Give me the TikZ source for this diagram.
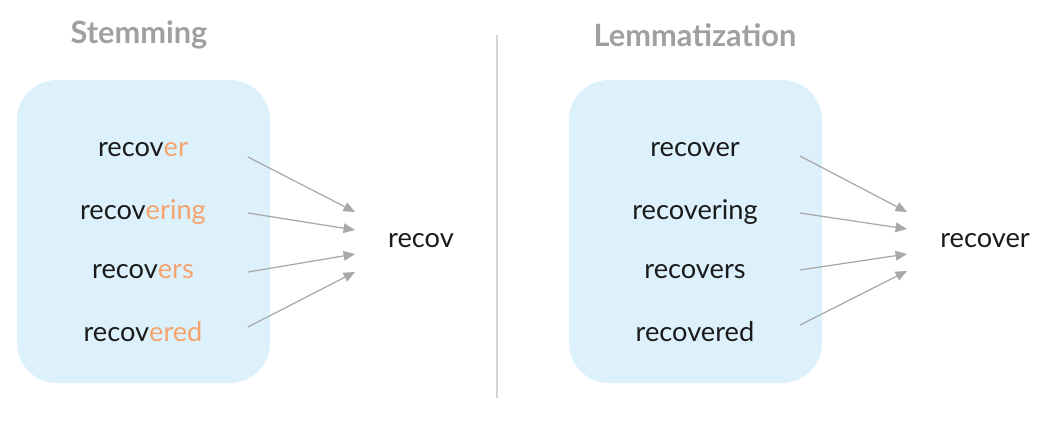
\documentclass[tikz,border=0pt]{standalone}
\usepackage{fontspec}
\setmainfont{Lato}
\usetikzlibrary{arrows.meta}

\definecolor{boxblue}{HTML}{DDF1FC}
\definecolor{titlegrey}{HTML}{A0A0A0}
\definecolor{arrgrey}{HTML}{A8A8A8}
\definecolor{sufcol}{HTML}{F5A46E}
\definecolor{wordcol}{HTML}{1A1A1A}
\definecolor{rulegrey}{HTML}{D4D4D4}

\begin{document}
\begin{tikzpicture}[x=0.02cm, y=0.02cm,
	title/.style = {text=titlegrey, font=\fontsize{17.5}{20}\selectfont\bfseries},
	word/.style = {text=wordcol, font=\fontsize{15.5}{18}\selectfont, inner sep=0pt},
	panel/.style = {fill=boxblue, draw=none, rounded corners=0.8cm},
	arr/.style = {draw=arrgrey, line width=0.7pt, -{Triangle[length=6.5pt, width=5.5pt]}}
]
\useasboundingbox (0, 0) rectangle (1047, 427);

% panels and divider
\fill[panel] (17, 44) rectangle (270, 347);
\fill[panel] (569, 44) rectangle (822, 347);
\draw[rulegrey, line width=0.8pt] (497, 392) -- (497, 29);

\node[title] (stemtitle) at (139, 392) {Stemming};
\node[title] (lemtitle) at (695, 392) {Lemmatization};

% stemming
\node[word] (s1) at (143, 277) {recov\textcolor{sufcol}{er}};
\node[word] (s2) at (143, 215) {recov\textcolor{sufcol}{ering}};
\node[word] (s3) at (143, 155) {recov\textcolor{sufcol}{ers}};
\node[word] (s4) at (143, 95) {recov\textcolor{sufcol}{ered}};
\node[word] (sr) at (421, 186) {recov};

\coordinate (ts1) at (248, 270);
\coordinate (ts2) at (248, 214);
\coordinate (ts3) at (248, 155);
\coordinate (ts4) at (248, 100);
\coordinate (hs1) at (355, 215);
\coordinate (hs2) at (355, 197);
\coordinate (hs3) at (355, 173);
\coordinate (hs4) at (355, 155);
\draw[arr] (ts1) -- (hs1);
\draw[arr] (ts2) -- (hs2);
\draw[arr] (ts3) -- (hs3);
\draw[arr] (ts4) -- (hs4);

% lemmatization
\node[word] (l1) at (695, 277) {recover};
\node[word] (l2) at (695, 215) {recovering};
\node[word] (l3) at (695, 155) {recovers};
\node[word] (l4) at (695, 95) {recovered};
\node[word] (lr) at (985, 186) {recover};

\coordinate (tl1) at (800, 271);
\coordinate (tl2) at (800, 214);
\coordinate (tl3) at (800, 157);
\coordinate (tl4) at (800, 102);
\coordinate (hl1) at (907, 215);
\coordinate (hl2) at (907, 198);
\coordinate (hl3) at (907, 173);
\coordinate (hl4) at (907, 156);
\draw[arr] (tl1) -- (hl1);
\draw[arr] (tl2) -- (hl2);
\draw[arr] (tl3) -- (hl3);
\draw[arr] (tl4) -- (hl4);
\end{tikzpicture}
\end{document}
